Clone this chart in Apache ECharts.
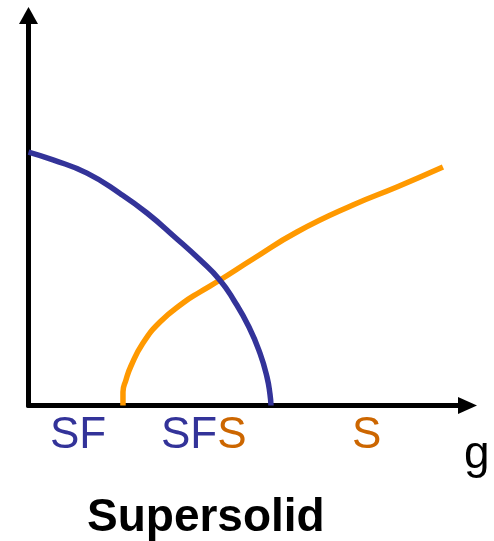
<!DOCTYPE html>
<html>
<head>
<meta charset="utf-8">
<script src="https://cdn.jsdelivr.net/npm/echarts@6/dist/echarts.min.js"></script>
<style>html,body{margin:0;padding:0;background:#fff}#c{width:494px;height:541px}</style>
</head>
<body>
<div id="c"></div>
<script>
// Superfluid boundary (blue) : [g, value]
var sfCurve = [[0,64.9],[5.57,62.9],[13.31,59.5],[20.82,54.3],[26.96,49.3],[33.33,43.1],[39.02,37.3],[43.57,32.1],[46.76,26.9],[50.17,20.1],[52.67,13.4],[54.27,7.3],[54.95,2.9],[55.18,0]];
// Solid boundary (orange)
var sCurve = [[21.5,0],[21.5,3.46],[22.18,6.53],[23.32,10.12],[26.05,16.0],[29.92,21.38],[35.15,26.25],[39.02,29.07],[43.57,32.14],[51.08,37.52],[61.09,44.43],[73.83,51.34],[83.84,55.95],[94.31,61.07]];
var phaseLabels = ['SF', 'SF', 'S', 'S'];
var axisName = 'g';
var caption = 'Supersolid';

var chart = echarts.init(document.getElementById('c'), null, {renderer:'canvas'});
var font = '"Liberation Sans", Arial, sans-serif';
chart.setOption({
  animation:false,
  backgroundColor:'#fff',
  grid:{left:28.5, right:26.5, top:15.5, bottom:135.5},
  xAxis:{type:'value', min:0, max:99.9,
    axisLine:{show:true, lineStyle:{color:'#000', width:5}, symbol:['none','triangle'], symbolSize:[17,19]},
    axisTick:{show:false}, axisLabel:{show:false}, splitLine:{show:false}},
  yAxis:{type:'value', min:0, max:99.87,
    axisLine:{show:true, onZero:false, lineStyle:{color:'#000', width:5}, symbol:['none','triangle'], symbolSize:[19,17]},
    axisTick:{show:false}, axisLabel:{show:false}, splitLine:{show:false}},
  series:[
    {type:'line', data:sfCurve, smooth:0.5, showSymbol:false, lineStyle:{color:'#333399', width:5.5}, z:3},
    {type:'line', data:sCurve, smooth:0.5, showSymbol:false, lineStyle:{color:'#FF9900', width:5.5}, z:2}
  ],
  graphic:[
    {type:'text', left:50, top:414, style:{text:phaseLabels[0], fill:'#333399', font:'44px '+font}},
    {type:'text', left:161, top:414, style:{text:'{b|'+phaseLabels[1]+'}{o|'+phaseLabels[2]+'}', font:'44px '+font,
      rich:{b:{fill:'#333399', font:'44px '+font}, o:{fill:'#CC6600', font:'44px '+font}}}},
    {type:'text', left:352, top:414, style:{text:phaseLabels[3], fill:'#CC6600', font:'44px '+font}},
    {type:'text', left:464, top:432, style:{text:axisName, fill:'#000', font:'46px '+font}},
    {type:'text', left:87, top:495, style:{text:caption, fill:'#000', font:'bold 46px '+font}}
  ]
});
</script>
</body>
</html>
